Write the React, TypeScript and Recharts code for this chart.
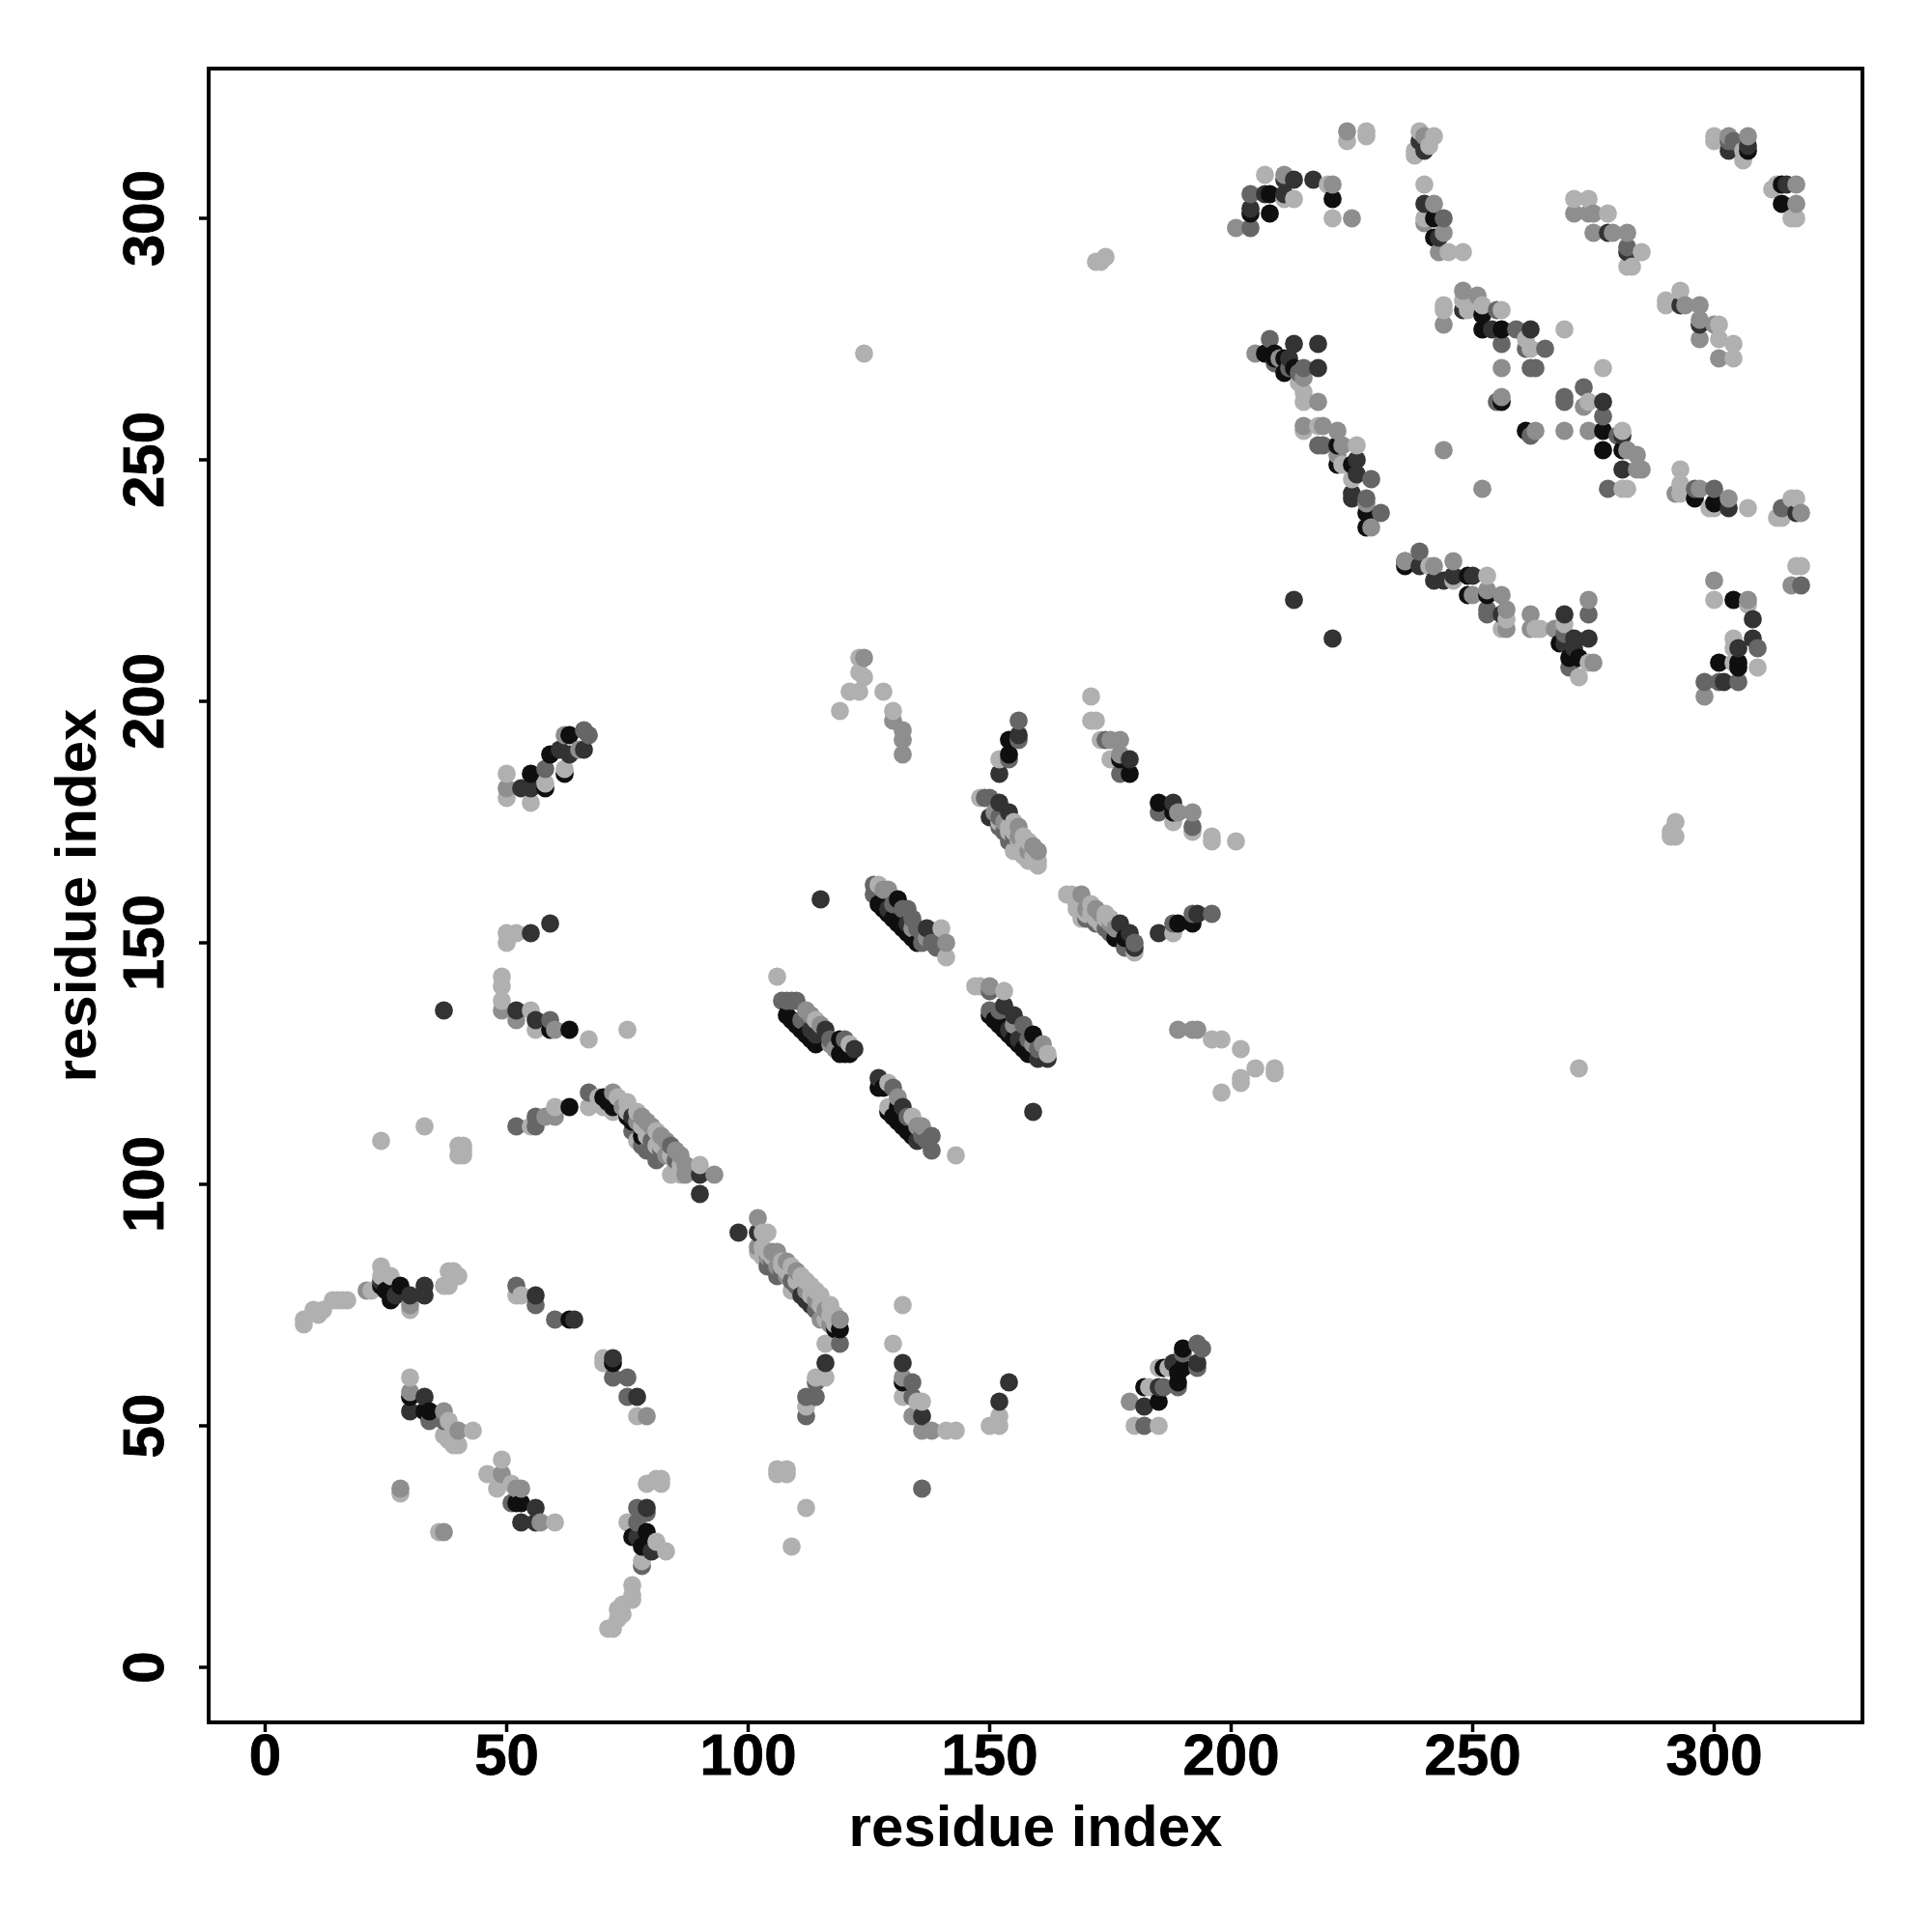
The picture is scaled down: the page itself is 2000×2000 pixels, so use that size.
import React from 'react';
import { ScatterChart, Scatter, XAxis, YAxis, ReferenceArea } from 'recharts';

type P = [number, number];
const tickValues = [0, 50, 100, 150, 200, 250, 300];
const axisTitle = 'residue index';

const blackPoints: P[] = [
  [24,79],[25,78],[26,76],[28,79],[63,72],[72,63],[30,56],[33,53],[34,53],[52,34],[53,34],[79,28],[76,27],[78,25],
  [55,185],[58,182],[59,189],[63,193],[62,185],[59,132],[63,132],[63,116],[70,118],[71,117],[72,116],[75,114],[76,113],[78,110],
  [108,135],[109,134],[110,133],[111,132],[112,131],[113,130],[114,129],[119,130],[119,127],[120,127],[121,127],
  [127,158],[128,157],[129,156],[130,155],[131,159],[131,154],[132,153],[133,152],[134,151],[135,150],
  [127,120],[128,120],[129,115],[130,114],[131,116],[131,113],[132,112],[133,111],[134,110],
  [150,135],[151,134],[152,133],[153,132],[154,131],[155,130],[156,129],[157,128],[158,127],[159,131],
  [154,192],[154,189],[177,188],[179,185],[185,179],[188,177],[189,154],[192,154],[176,151],[178,151],
  [118,70],[119,70],[132,59],[182,58],[185,55],[186,62],[189,59],[190,62],[190,66],[189,61],
  [204,301],[207,272],[208,305],[208,301],[209,272],[209,271],[211,271],[211,268],[221,304],[213,269],
  [222,253],[222,249],[225,249],[228,239],[228,236],[242,300],[242,296],[307,314],[252,280],[252,277],[256,277],[256,262],[261,256],[277,256],[277,252],
  [281,252],[296,242],[300,241],[236,228],[249,226],[249,222],[253,222],[268,212],[270,209],[272,209],[271,210],[304,221],[301,208],[305,208],[305,207],[314,307],[314,303],
];

const darkPoints: P[] = [
  [24,80],[27,77],[30,77],[33,79],[33,77],[56,77],[64,72],[72,64],[77,56],[33,56],[30,53],[53,30],[56,33],[56,30],[79,33],[77,27],[80,24],
  [59,154],[55,152],[53,182],[55,182],[61,190],[63,189],[66,190],[52,136],[56,134],[76,114],[90,102],[90,98],[98,90],[102,90],[112,76],[113,75],[111,77],
  [116,63],[132,63],[136,52],[152,55],[154,59],[182,54],[188,63],[193,63],[185,58],[115,159],[159,115],[37,136],
  [116,132],[122,128],[137,153],[132,116],[135,109],[127,122],[153,137],[155,135],[160,126],[162,126],[156,193],[152,185],[179,188],[188,179],
  [152,179],[154,177],[150,176],[177,154],[179,152],[180,149],[185,152],[193,156],
  [204,302],[207,305],[211,308],[213,308],[211,305],[217,308],[213,274],[218,269],[212,271],[218,274],[226,250],[226,247],[225,243],[225,242],[240,303],[240,314],[239,316],[243,296],
  [248,281],[254,277],[262,277],[277,262],[213,221],[221,213],[281,255],[281,248],[278,297],[282,293],[293,282],[297,278],[303,314],[303,240],[307,315],[315,307],[317,239],
  [236,229],[239,228],[242,225],[244,225],[246,226],[250,226],[256,218],[269,218],[271,213],[274,213],[308,217],[308,213],[305,211],[302,204],
  [129,157],[133,154],[154,132],[156,130],[114,131],[113,132],[269,212],[271,211],
];

const midPoints: P[] = [
  [52,79],[56,75],[60,72],[72,60],[75,60],[75,56],[34,51],[37,51],[51,34],[77,33],[79,32],[77,30],[78,21],
  [58,186],[66,194],[67,193],[56,114],[56,112],[52,112],[67,119],[59,134],[79,107],[81,105],[84,108],
  [105,84],[107,82],[109,80],[112,56],[114,59],[114,56],[112,52],[119,67],[134,59],[134,56],[136,37],[182,50],[189,58],[193,67],[194,66],[193,62],[186,58],[190,65],
  [107,138],[108,138],[109,138],[110,138],[120,130],[126,162],[126,160],[132,157],[133,157],[134,155],[136,150],[138,150],[130,120],[138,110],[138,107],[150,140],[150,136],[157,133],
  [156,196],[156,192],[154,188],[174,192],[177,185],[185,177],[192,174],[149,180],[150,180],[152,174],[154,171],[175,152],[178,149],[180,150],[188,154],[192,156],[196,156],
  [204,305],[204,298],[208,275],[215,269],[229,246],[228,242],[231,239],[218,253],[219,253],
  [244,300],[256,274],[259,277],[261,273],[265,273],[255,281],[262,269],[263,269],[269,263],[269,262],[273,265],[277,259],[255,262],[262,255],[280,255],
  [278,244],[282,294],[296,244],[300,244],[304,316],[303,316],[314,240],
  [239,231],[253,219],[253,218],[269,214],[274,218],[270,207],[309,211],[298,204],[301,204],[305,204],[318,224],
  [76,111],[80,109],[82,107],[78,108],[85,105],[104,83],[106,81],[110,79],[114,74],[153,173],[155,172],[152,176],[170,155],[172,154],[174,153],
  [130,158],[135,153],[136,152],[139,149],[152,136],[158,130],[160,128],[133,114],[136,110],[137,109],[111,134],[117,130],[209,270],[212,269],[214,268],
];

const grayPoints: P[] = [
  [21,78],[30,75],[30,57],[37,53],[40,49],[49,40],[53,37],[52,37],[57,30],[79,52],[28,37],[37,28],
  [50,182],[65,190],[62,193],[49,136],[52,134],[60,132],[60,114],[58,114],[72,119],[78,114],[79,113],[83,109],[86,106],[87,104],[93,102],[87,102],[102,93],[102,87],[105,86],[106,86],[108,84],[115,72],[119,72],
  [132,60],[134,52],[136,49],[138,49],[179,55],[112,136],[117,129],[128,161],[129,161],[141,150],[136,112],[150,141],[161,129],[175,192],[177,192],[177,189],[156,174],[160,169],[169,160],[172,157],[189,177],[192,177],[189,132],[192,132],[193,132],
  [132,194],[132,192],[132,189],[130,196],[124,209],
  [201,298],[211,309],[221,307],[225,300],[224,318],[240,317],[242,303],[240,299],[244,297],[243,293],[248,285],[244,278],[251,284],[256,269],[256,263],[263,256],[269,256],[273,261],[274,256],[244,252],[252,244],
  [205,272],[210,271],[215,267],[218,262],[215,257],[219,257],[222,256],[223,253],[222,251],[228,241],[229,236],
  [271,301],[274,301],[275,301],[275,297],[279,297],[282,297],[294,282],[297,282],[297,279],[297,275],[300,278],[301,271],[303,317],[307,317],[317,307],[317,303],
  [282,252],[284,251],[284,248],[285,248],[292,243],[297,244],[303,242],[318,239],
  [236,229],[242,228],[246,229],[250,222],[253,223],[256,222],[257,219],[257,215],[262,218],[262,215],[267,215],[274,221],[275,208],[300,225],[307,221],[316,224],[298,201],
  [74,116],[77,113],[80,112],[82,110],[83,106],[85,107],[88,103],[104,85],[106,83],[108,81],[110,82],[112,78],[114,76],[116,74],[117,71],
  [151,177],[153,175],[156,172],[158,169],[159,170],[170,157],[173,156],[175,154],[176,153],[113,135],[115,133],[118,128],[134,153],[137,151],[155,133],[159,129],[135,112],[131,118],
];

const lightPoints: P[] = [
  [8,71],[8,72],[10,74],[11,73],[12,74],[14,76],[15,76],[16,76],[17,76],[22,78],[24,83],[24,81],[26,81],[30,74],
  [37,79],[38,79],[38,82],[39,82],[40,81],[52,77],[53,77],[70,64],[70,63],[77,52],[30,60],[38,51],[39,49],[43,49],[37,48],[38,47],[39,46],[40,46],
  [49,43],[46,40],[48,37],[51,38],[60,30],[28,36],[36,28],[81,39],[82,39],[79,38],[82,38],[75,30],[81,26],[83,24],[78,22],[76,17],[76,15],[76,14],[74,13],[73,12],[74,11],[73,10],[71,8],[72,8],
  [50,185],[50,180],[55,179],[58,183],[62,186],[50,152],[52,152],[50,150],[49,143],[49,141],[49,138],[55,136],[56,132],[67,130],[75,132],
  [55,112],[60,116],[67,116],[69,118],[70,116],[72,115],[73,118],[75,117],[77,115],[77,109],[81,111],[84,102],[86,102],[90,104],
  [103,90],[104,90],[102,86],[103,87],[103,85],[104,86],[107,84],[109,83],[109,78],[111,81],[112,80],[113,79],[114,78],[115,77],[117,75],[118,73],[116,67],[114,60],[116,60],[112,54],
  [132,75],[130,67],[132,56],[135,55],[136,55],[141,49],[143,49],[152,52],[150,50],[152,50],[180,50],[185,50],[183,58],[185,62],[187,62],
  [106,41],[106,40],[108,41],[108,40],[112,33],[109,25],[24,109],[33,112],[41,108],[41,107],[41,106],[40,108],[40,106],
  [106,143],[114,134],[121,129],[127,162],[140,153],[141,147],[129,121],[129,116],[134,114],[143,106],[147,141],[148,141],[153,140],[162,127],
  [152,188],[171,201],[171,196],[172,196],[173,192],[175,188],[188,175],[192,173],[196,172],[196,171],[201,171],
  [148,180],[155,175],[155,169],[157,172],[158,171],[157,168],[160,167],[160,166],[166,160],[167,160],[168,158],[169,155],[171,158],[174,156],[175,155],[180,148],[188,152],
  [196,130],[198,130],[202,128],[198,119],[202,121],[202,122],[205,124],[209,124],[209,123],
  [119,198],[121,202],[123,202],[123,209],[124,205],[123,206],[128,202],[130,198],
  [124,272],[172,291],[173,291],[174,292],[272,124],[292,175],[291,173],[292,172],[291,172],
  [207,309],[213,304],[211,304],[220,307],[221,300],[224,316],[228,318],[228,317],[239,318],[242,317],[238,314],[238,313],[241,315],[240,307],[240,300],[245,293],[248,293],
  [244,282],[244,281],[248,283],[249,281],[252,282],[256,281],[261,275],[262,273],[269,277],[277,269],[274,262],[281,256],[281,244],[282,244],
  [215,264],[215,262],[218,257],[215,256],[226,253],[223,249],[225,246],[214,266],
  [271,304],[274,304],[278,301],[285,293],[282,290],[283,290],[290,283],[290,282],[293,285],[301,278],[301,275],[304,274],[304,271],[300,317],[300,316],[306,314],[306,312],[312,306],[313,307],[316,300],[317,300],
  [293,248],[293,245],[293,243],[299,240],[300,240],[307,240],[313,238],[314,238],[316,242],[317,242],
  [241,228],[246,225],[253,226],[257,217],[256,215],[263,215],[264,215],[269,216],[274,208],[272,205],[300,221],[307,220],[304,213],[304,211],[304,208],[309,207],[317,228],[318,228],
  [75,115],[78,112],[79,110],[81,108],[82,108],[84,106],[85,104],[86,104],[105,85],[107,83],[108,82],[110,80],[113,77],[115,75],[116,72],[117,73],[118,71],
  [152,175],[154,173],[154,174],[155,173],[156,171],[156,170],[157,170],[158,167],[159,168],[168,157],[169,158],[170,156],[171,156],[172,155],[173,154],[174,155],
];

const shadeTable: [P[], string][] = [
  [blackPoints, '#0f0f0f'],
  [darkPoints, '#333333'],
  [midPoints, '#666666'],
  [grayPoints, '#8e8e8e'],
  [lightPoints, '#b0b0b0'],
];

const rows = shadeTable
  .flatMap(([pts, shade]) => pts.map(([x, y]) => ({ x, y, shade })))
  .sort((a, b) => a.x - b.x || a.y - b.y);

const font = { fontFamily: '"Liberation Sans", Arial, sans-serif', fontWeight: 700, fontSize: 60, fill: '#000' };

const XTick = (p: any) => (
  <text x={p.x} y={p.y + 42} textAnchor="middle" stroke="#000" strokeWidth={0.8} {...font}>{p.payload.value}</text>
);
const YTick = (p: any) => (
  <text x={p.x - 35} y={p.y} textAnchor="middle" stroke="#000" strokeWidth={0.8} transform={`rotate(-90 ${p.x - 35} ${p.y})`} {...font}>{p.payload.value}</text>
);
const Dot = (p: any) => <circle cx={p.cx} cy={p.cy} r={9.4} fill={p.payload.shade} />;

export default function App() {
  return (
    <div style={{ position: 'absolute', left: 0, top: 0, background: '#fff' }}>
      <ScatterChart width={2000} height={2000} margin={{ left: 0, right: 72, top: 71, bottom: 0 }}>
        <XAxis
          type="number" dataKey="x" domain={[-11.7, 330.7]} ticks={tickValues} allowDataOverflow
          height={217} tickSize={10} axisLine={false} tickLine={{ stroke: '#000', strokeWidth: 3.5 }} tick={XTick} interval={0}
          label={{ content: (l: any) => (
            <text x={l.viewBox.x + l.viewBox.width / 2} y={l.viewBox.y + 128} textAnchor="middle" {...font}>{axisTitle}</text>
          ) }}
        />
        <YAxis
          type="number" dataKey="y" domain={[-11.4, 331]} ticks={tickValues} allowDataOverflow
          width={216} tickSize={10} axisLine={false} tickLine={{ stroke: '#000', strokeWidth: 3.5 }} tick={YTick} interval={0}
          label={{ content: (l: any) => {
            const cy = l.viewBox.y + l.viewBox.height / 2;
            return <text x={99} y={cy} textAnchor="middle" transform={`rotate(-90 99 ${cy})`} {...font}>{axisTitle}</text>;
          } }}
        />
        <Scatter data={rows} shape={Dot} isAnimationActive={false} />
        <ReferenceArea x1={-11.7} x2={330.7} y1={-11.4} y2={331} fill="none" stroke="#000" strokeWidth={4} />
      </ScatterChart>
    </div>
  );
}
